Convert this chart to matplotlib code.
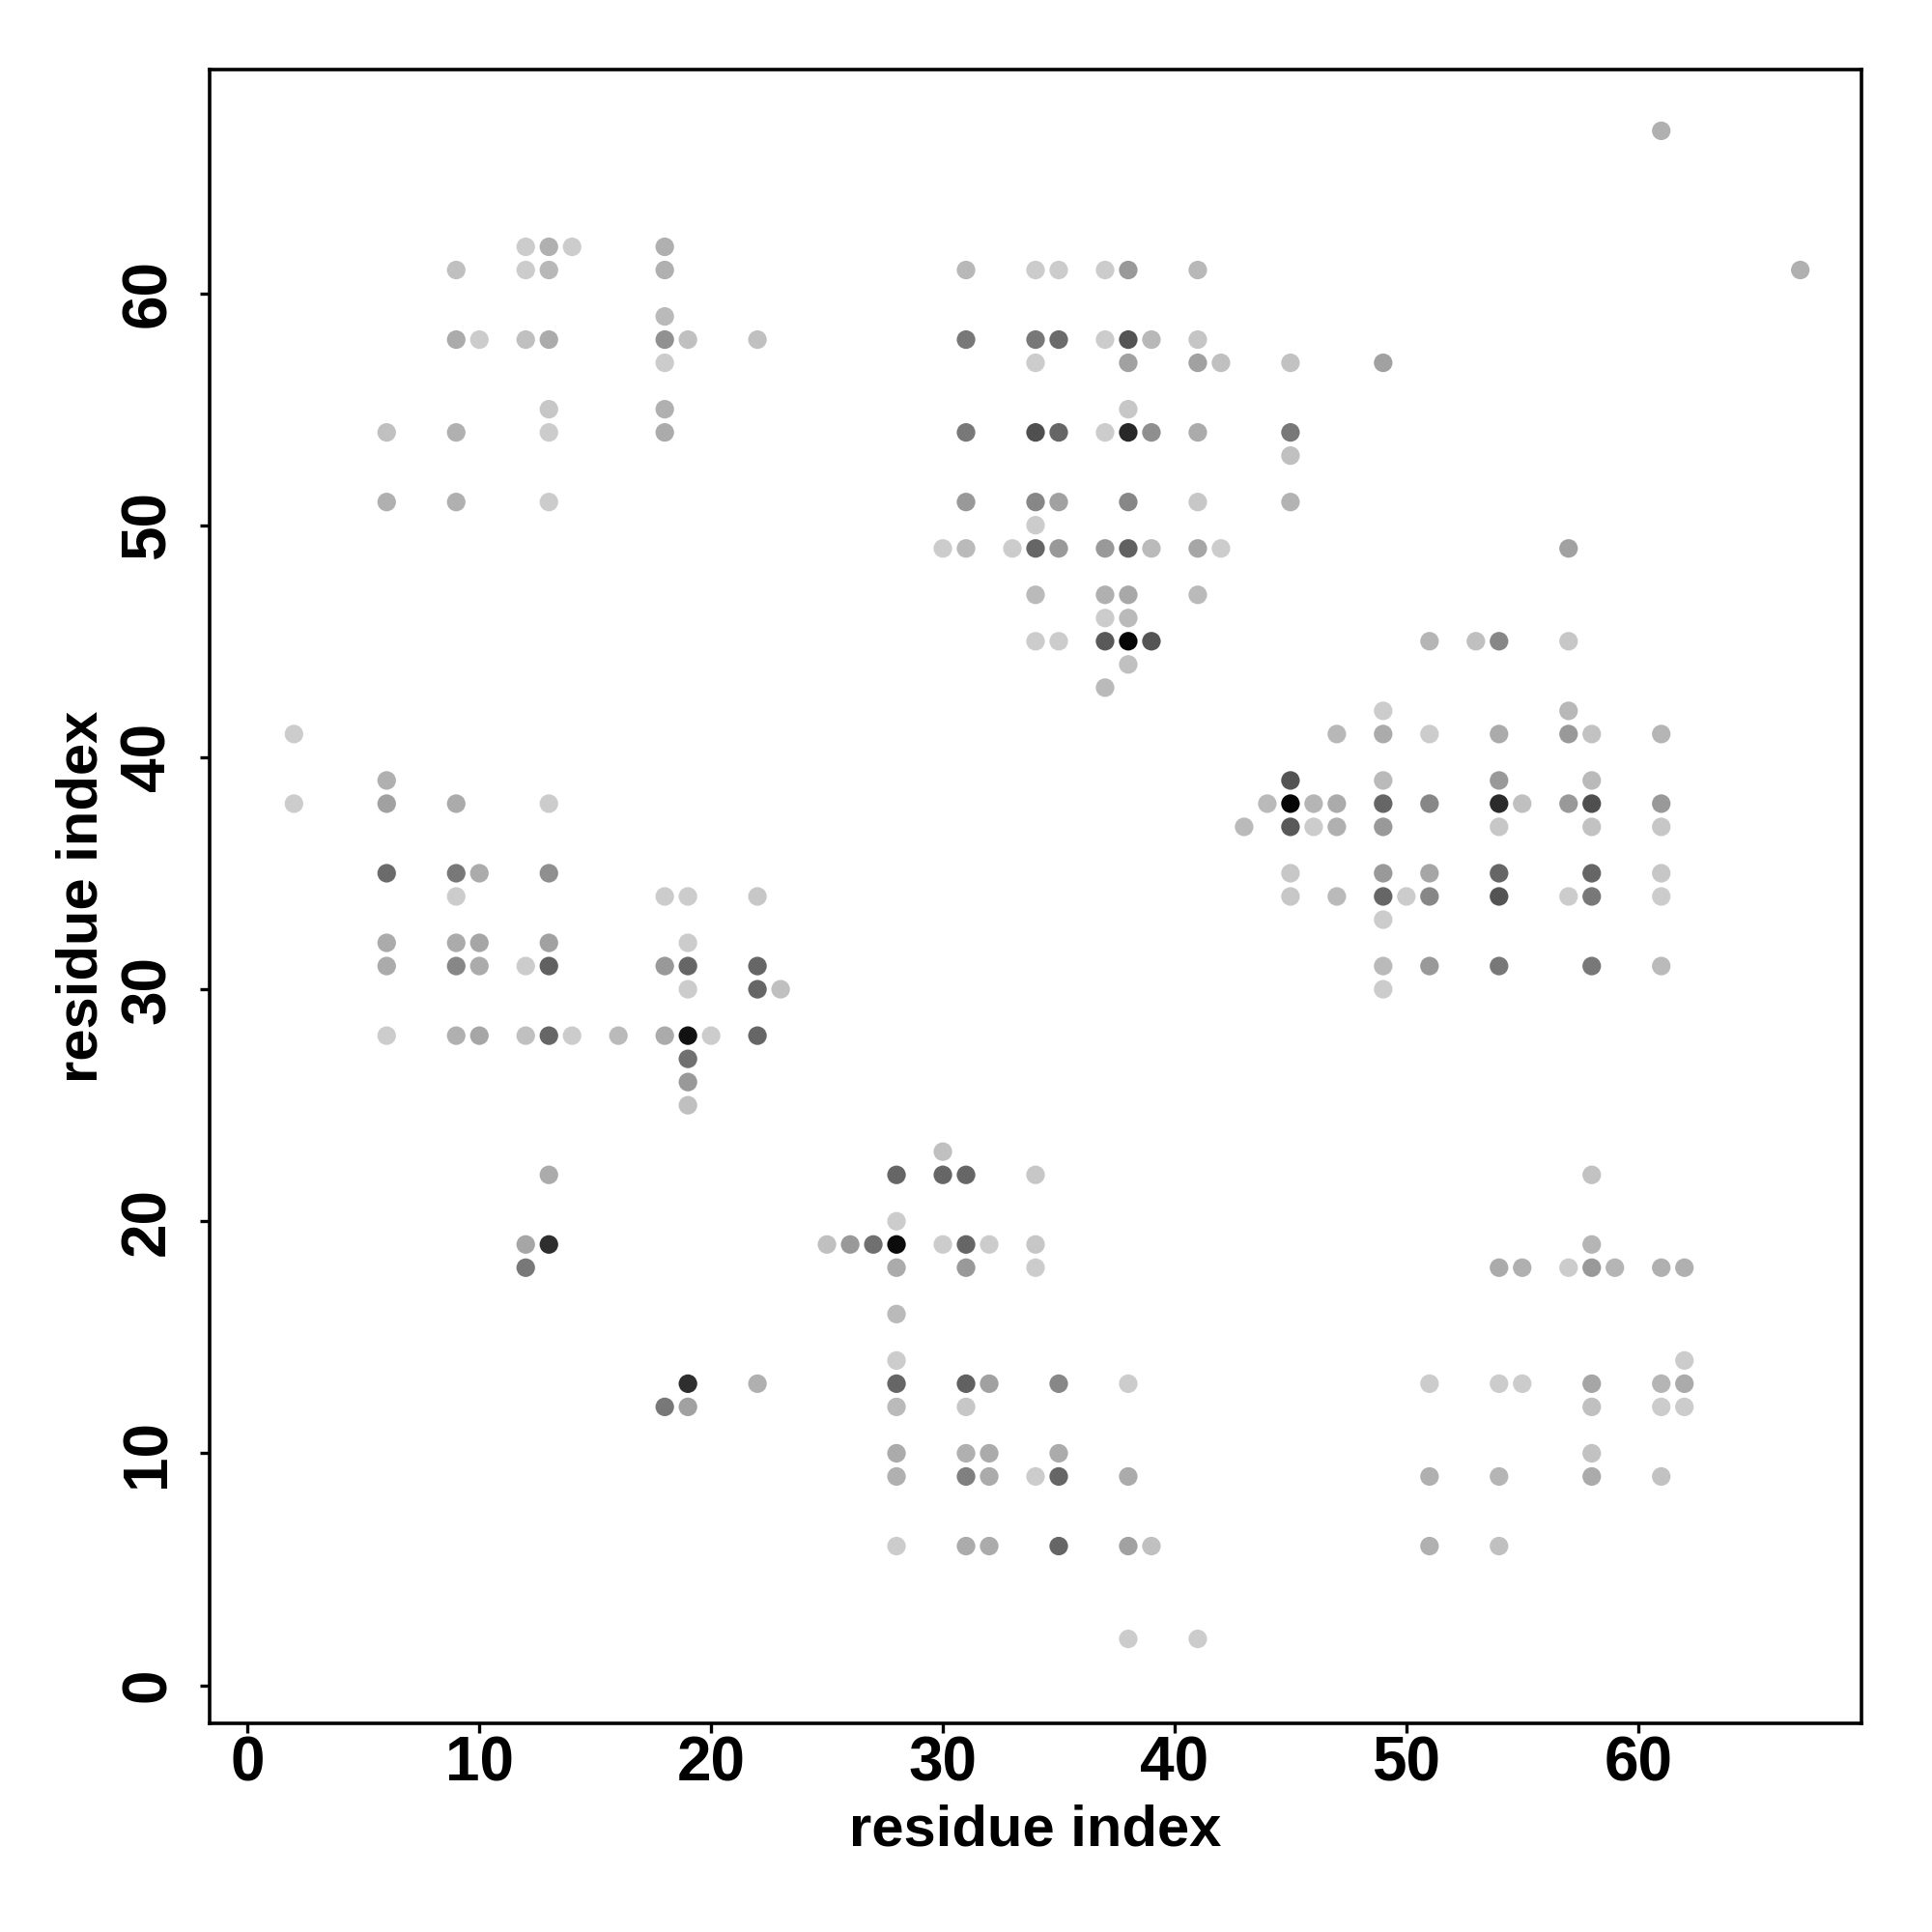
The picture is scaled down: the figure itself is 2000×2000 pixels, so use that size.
import matplotlib
matplotlib.use("Agg")
import matplotlib.pyplot as plt

plt.rcParams['font.family'] = ['Liberation Sans', 'DejaVu Sans']

# contact map: one entry per row (residue j), x positions (residue i) and grey level of each dot
row_j = [67, 62, 61, 59, 58, 57, 55, 54, 53, 51, 50, 49, 47, 46, 45, 44, 43, 42, 41,
         39, 38, 37, 35, 34, 33, 32, 31, 30, 28, 27, 26, 25, 23, 22, 20, 19, 18, 16,
         14, 13, 12, 10, 9, 6, 2]

row_i = [
    [61],
    [12, 13, 14, 18],
    [9, 12, 13, 18, 31, 34, 35, 37, 38, 41, 67],
    [18],
    [9, 10, 12, 13, 18, 19, 22, 31, 34, 35, 37, 38, 39, 41],
    [18, 34, 38, 41, 42, 45, 49],
    [13, 18, 38],
    [6, 9, 13, 18, 31, 34, 35, 37, 38, 39, 41, 45],
    [45],
    [6, 9, 13, 31, 34, 35, 38, 41, 45],
    [34],
    [30, 31, 33, 34, 35, 37, 38, 39, 41, 42, 57],
    [34, 37, 38, 41],
    [37, 38],
    [34, 35, 37, 38, 39, 51, 53, 54, 57],
    [38],
    [37],
    [49, 57],
    [2, 47, 49, 51, 54, 57, 58, 61],
    [6, 45, 49, 54, 58],
    [2, 6, 9, 13, 44, 45, 46, 47, 49, 51, 54, 55, 57, 58, 61],
    [43, 45, 46, 47, 49, 54, 58, 61],
    [6, 9, 10, 13, 45, 49, 51, 54, 58, 61],
    [9, 18, 19, 22, 45, 47, 49, 50, 51, 54, 57, 58, 61],
    [49],
    [6, 9, 10, 13, 19],
    [6, 9, 10, 12, 13, 18, 19, 22, 49, 51, 54, 58, 61],
    [19, 22, 23, 49],
    [6, 9, 10, 12, 13, 14, 16, 18, 19, 20, 22],
    [19],
    [19],
    [19],
    [30],
    [13, 28, 30, 31, 34, 58],
    [28],
    [12, 13, 25, 26, 27, 28, 30, 31, 32, 34, 58],
    [12, 28, 31, 34, 54, 55, 57, 58, 59, 61, 62],
    [28],
    [28, 62],
    [19, 22, 28, 31, 32, 35, 38, 51, 54, 55, 58, 61, 62],
    [18, 19, 28, 31, 58, 61, 62],
    [28, 31, 32, 35, 58],
    [28, 31, 32, 34, 35, 38, 51, 54, 58, 61],
    [28, 31, 32, 35, 38, 39, 51, 54],
    [38, 41],
]

row_grey = [
    [.69],
    [.80, .69, .80, .69],
    [.75, .80, .72, .69, .72, .80, .80, .80, .60, .72, .69],
    [.73],
    [.67, .80, .75, .67, .57, .75, .75, .47, .47, .42, .80, .33, .72, .77],
    [.80, .80, .63, .63, .75, .76, .63],
    [.78, .69, .78],
    [.75, .69, .80, .67, .47, .31, .40, .80, .16, .56, .67, .47],
    [.75],
    [.69, .69, .80, .60, .53, .63, .53, .78, .70],
    [.80],
    [.80, .73, .80, .40, .60, .60, .38, .73, .65, .80, .63],
    [.73, .69, .66, .73],
    [.80, .73],
    [.80, .80, .35, .02, .33, .71, .75, .53, .78],
    [.75],
    [.73],
    [.80, .72],
    [.80, .72, .67, .80, .67, .60, .76, .71],
    [.69, .33, .73, .60, .73],
    [.80, .63, .67, .80, .73, .02, .71, .67, .40, .53, .17, .75, .60, .31, .60],
    [.73, .35, .80, .69, .60, .78, .76, .78],
    [.42, .47, .67, .56, .78, .60, .65, .40, .40, .78],
    [.80, .80, .80, .78, .78, .73, .40, .80, .53, .33, .80, .47, .80],
    [.80],
    [.67, .67, .65, .63, .80],
    [.67, .53, .67, .80, .38, .60, .40, .40, .73, .60, .47, .47, .73],
    [.80, .40, .75, .80],
    [.80, .69, .65, .75, .40, .80, .73, .67, .07, .80, .40],
    [.44],
    [.60],
    [.75],
    [.75],
    [.67, .40, .40, .40, .78, .76],
    [.80],
    [.65, .18, .75, .60, .44, .05, .80, .40, .80, .78, .71],
    [.47, .67, .60, .80, .67, .69, .80, .60, .71, .69, .69],
    [.73],
    [.80, .80],
    [.18, .69, .40, .38, .63, .53, .80, .80, .80, .80, .65, .71, .67],
    [.47, .63, .73, .78, .75, .80, .80],
    [.67, .69, .67, .67, .76],
    [.69, .50, .67, .80, .40, .67, .69, .71, .67, .76],
    [.80, .67, .67, .40, .63, .75, .69, .75],
    [.80, .80],
]

xs, ys, greys = [], [], []
for j, ii, gg in zip(row_j, row_i, row_grey):
    for i, g in zip(ii, gg):
        xs.append(i)
        ys.append(j)
        greys.append(g)

fig = plt.figure(figsize=(10, 10), dpi=200)
ax = fig.add_axes([0.1085, 0.108, 0.855, 0.856])

ax.scatter(xs, ys, c=greys, cmap='gray', vmin=0, vmax=1, s=48, linewidths=0)

ax.set_xlim(-1.64, 69.64)
ax.set_ylim(-1.64, 69.64)
ax.set_xticks(range(0, 61, 10))
ax.set_yticks(range(0, 61, 10))

for s in ax.spines.values():
    s.set_linewidth(1.3)
ax.tick_params(axis='both', direction='out', length=3.5, width=1.2)
ax.tick_params(axis='x', pad=1)
ax.tick_params(axis='y', pad=8.5)
tick_font = dict(size=23, weight='bold')
for lab in ax.get_xticklabels():
    lab.set(**tick_font)
for lab in ax.get_yticklabels():
    lab.set(**tick_font)
    lab.set_rotation(90)
    lab.set_va('center')

ax.set_xlabel('residue index', fontsize=21.5, fontweight='bold', labelpad=4)
ax.set_ylabel('residue index', fontsize=21.5, fontweight='bold', labelpad=4)

fig.savefig('out.png', dpi=200)
